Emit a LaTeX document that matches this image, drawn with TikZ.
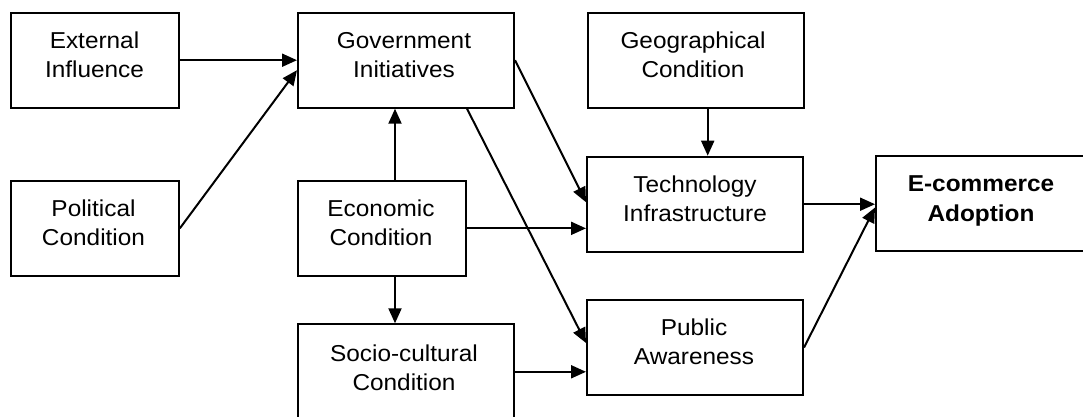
\documentclass[tikz,border=0pt]{standalone}
\usepackage{fontspec}
\setmainfont{Liberation Sans}[FakeStretch=1.06]
\usetikzlibrary{arrows.meta}
\tikzset{
  box/.style={draw, line width=2pt, rectangle, inner sep=0pt, minimum height=95pt},
  wbox/.style={box, minimum width=216pt},
  nbox/.style={box, minimum width=168pt},
  lbl/.style={anchor=base, inner sep=0pt, font=\fontsize{23}{29}\selectfont},
  arr/.style={line width=2pt, -{Triangle[length=15pt,width=13pt]}}
}
\begin{document}
\begin{tikzpicture}[x=1pt,y=-1pt]
\useasboundingbox (0,0) rectangle (1083,417);
\clip (0,0) rectangle (1083,417);
% boxes
\node[nbox] (ext)  at (94.85,60.2) {};
\node[nbox] (pol)  at (94.85,228.35) {};
\node[wbox] (gov)  at (406,60.2) {};
\node[nbox] (eco)  at (382,228.35) {};
\node[wbox] (soc)  at (406,371.8) {};
\node[wbox] (geo)  at (695.7,60.8) {};
\node[wbox] (tech) at (695,204.2) {};
\node[wbox] (pub)  at (695,347.5) {};
\node[wbox] (ecom) at (984,203.5) {};
% labels
\node[lbl] (ext-t)  at (94.5,48.3)  {\begin{tabular}[t]{@{}c@{}}External\\Influence\end{tabular}};
\node[lbl] (pol-t)  at (93.5,216.4) {\begin{tabular}[t]{@{}c@{}}Political\\Condition\end{tabular}};
\node[lbl] (gov-t)  at (404,48.3)   {\begin{tabular}[t]{@{}c@{}}Government\\Initiatives\end{tabular}};
\node[lbl] (eco-t)  at (381,216.4)  {\begin{tabular}[t]{@{}c@{}}Economic\\Condition\end{tabular}};
\node[lbl] (soc-t)  at (404,361)    {\begin{tabular}[t]{@{}c@{}}Socio-cultural\\Condition\end{tabular}};
\node[lbl] (geo-t)  at (693,48.8)   {\begin{tabular}[t]{@{}c@{}}Geographical\\Condition\end{tabular}};
\node[lbl] (tech-t) at (695,192.3)  {\begin{tabular}[t]{@{}c@{}}Technology\\Infrastructure\end{tabular}};
\node[lbl] (pub-t)  at (694,335.6)  {\begin{tabular}[t]{@{}c@{}}Public\\Awareness\end{tabular}};
\node[lbl, font=\fontsize{23}{30}\selectfont\bfseries] (ecom-t) at (981,191.7) {\begin{tabular}[t]{@{}c@{}}E-commerce\\Adoption\end{tabular}};
% connectors
\draw[arr] (ext.east) -- (ext.east -| gov.west);
\draw[arr] (pol.east) -- ([yshift=-10pt]gov.west);
\draw[arr] ([xshift=13pt]eco.north) -- ([xshift=-11pt]gov.south);
\draw[arr] ([xshift=13pt]eco.south) -- ([xshift=-11pt]soc.north);
\draw[arr] (gov.east) -- ([yshift=2pt]tech.west);
\draw[arr] ([xshift=61pt]gov.south) -- ([yshift=4.5pt]pub.west);
\draw[arr] (eco.east) -- (eco.east -| tech.west);
\draw[arr] (soc.east) -- (soc.east -| pub.west);
\draw[arr] ([xshift=12pt]geo.south) -- ([xshift=12pt]geo.south |- tech.north);
\draw[arr] (tech.east) -- (tech.east -| ecom.west);
\draw[arr] (pub.east) -- ([yshift=-4pt]ecom.west);
\end{tikzpicture}
\end{document}
